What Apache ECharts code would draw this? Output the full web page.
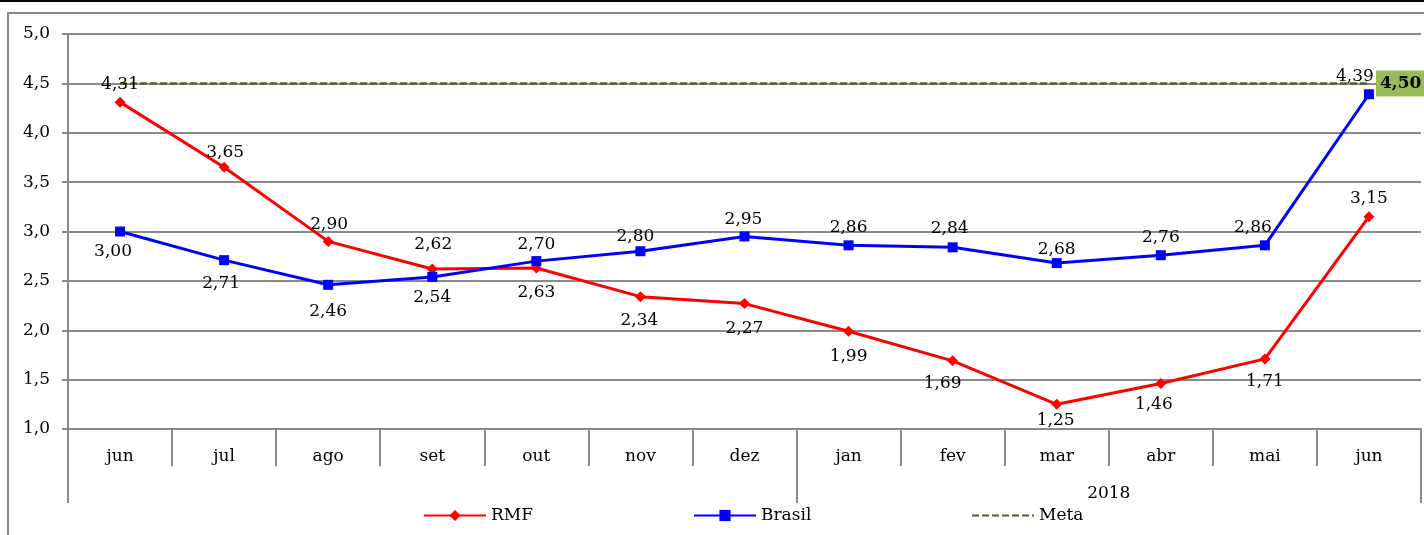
<!DOCTYPE html>
<html>
<head>
<meta charset="utf-8">
<script src="https://cdn.jsdelivr.net/npm/echarts@6/dist/echarts.min.js"></script>
<style>
  html, body { margin: 0; padding: 0; background: #fff; }
  #chart { width: 1424px; height: 535px; }
</style>
</head>
<body>
<div id="chart"></div>
<script>
// Monthly series, jun/2017 to jun/2018
const months = ['jun', 'jul', 'ago', 'set', 'out', 'nov', 'dez', 'jan', 'fev', 'mar', 'abr', 'mai', 'jun'];
const rmf    = [4.31, 3.65, 2.90, 2.62, 2.63, 2.34, 2.27, 1.99, 1.69, 1.25, 1.46, 1.71, 3.15];
const brasil = [3.00, 2.71, 2.46, 2.54, 2.70, 2.80, 2.95, 2.86, 2.84, 2.68, 2.76, 2.86, 4.39];
const meta   = [4.50, 4.50, 4.50, 4.50, 4.50, 4.50, 4.50, 4.50, 4.50, 4.50, 4.50, 4.50, 4.50];
// Year band under the month labels (boundaries between months, 0..13)
const yearBoundaries = ['', '', '', '', '', '', '', '', '', '', '2018', '', '', ''];
const yearTickIdx = [0, 7, 13];
const seriesNames = ['RMF', 'Brasil', 'Meta'];

// Label placement per point: side of the line and nudge [dx, dy]
const rmfLabelSide = ['top','top','top','top','bottom','bottom','bottom','bottom','bottom','bottom','bottom','bottom','top'];
const rmfLabelOff  = [[0,0],[1,3],[1,1],[1,-6],[0,4],[-1,3],[0,4],[0,4],[-10,2],[-1,-5],[-7,0],[0,2],[0,0]];
const brLabelSide  = ['bottom','bottom','bottom','bottom','top','top','top','top','top','top','top','top','top'];
const brLabelOff   = [[-7,0],[-3,3],[0,6],[0,0],[0,1],[-5,3],[-1,1],[0,0],[-3,-1],[0,4],[0,0],[-12,0],[-14,0]];

const FONT = 'DejaVu Serif';
const FS = 17;
const fmt = v => v.toFixed(2).replace('.', ',');

function pointsWithLabels(values, sides, offs) {
  return values.map((v, i) => ({
    value: v,
    label: {
      position: sides[i],
      distance: sides[i] === 'top' ? 4 : 7,
      offset: offs[i]
    }
  }));
}

// One legend block per series so each entry sits at its own column
const legendLefts = [418, 688, 966];
const legends = seriesNames.map((name, i) => ({
  left: legendLefts[i],
  top: 502,
  itemWidth: 62,
  itemHeight: 14,
  textStyle: { fontFamily: FONT, fontSize: FS, color: '#000' },
  data: [name === 'Meta' ? { name, itemStyle: { opacity: 0 } } : name]
}));

const chart = echarts.init(document.getElementById('chart'), null, { renderer: 'canvas' });

chart.setOption({
  animation: false,
  backgroundColor: '#fff',
  textStyle: { fontFamily: FONT },
  graphic: [
    { type: 'line', shape: { x1: 0, y1: 1, x2: 1424, y2: 1 }, style: { stroke: '#000', lineWidth: 2 }, silent: true },
    { type: 'rect', shape: { x: 8, y: 13, width: 1500, height: 600 }, style: { fill: 'none', stroke: '#8a8a8a', lineWidth: 2 }, silent: true }
  ],
  grid: { left: 68, right: 0, top: 34, bottom: 106, containLabel: false },
  legend: legends,
  xAxis: [
    {
      type: 'category',
      data: months,
      boundaryGap: true,
      axisLine: { lineStyle: { color: '#8a8a8a', width: 2 } },
      axisTick: { show: true, length: 37, lineStyle: { color: '#8a8a8a', width: 2 } },
      axisLabel: { fontFamily: FONT, fontSize: FS, color: '#000', margin: 19 }
    },
    {
      type: 'category',
      data: yearBoundaries,
      boundaryGap: false,
      position: 'bottom',
      axisLine: { show: false },
      axisTick: {
        show: true,
        length: 74,
        interval: (idx) => yearTickIdx.indexOf(idx) >= 0,
        lineStyle: { color: '#8a8a8a', width: 2 }
      },
      axisLabel: { fontFamily: FONT, fontSize: FS, color: '#000', margin: 56, interval: 0 },
      splitLine: { show: false }
    }
  ],
  yAxis: {
    type: 'value',
    min: 1,
    max: 5,
    interval: 0.5,
    axisLine: { show: true, lineStyle: { color: '#8a8a8a', width: 2 } },
    axisTick: { show: true, length: 6, lineStyle: { color: '#8a8a8a', width: 2 } },
    axisLabel: { fontFamily: FONT, fontSize: FS, color: '#000', margin: 18, formatter: v => v.toFixed(1).replace('.', ',') },
    splitLine: { show: true, lineStyle: { color: '#8a8a8a', width: 2 } }
  },
  series: [
    {
      name: 'Meta',
      type: 'line',
      xAxisIndex: 0,
      data: meta,
      symbol: 'none',
      lineStyle: { color: '#4F6228', width: 2.5, type: [7, 3] },
      itemStyle: { color: '#4F6228' },
      markPoint: {
        symbol: 'circle',
        symbolSize: 0,
        silent: true,
        data: [{ coord: [meta.length - 1, meta[meta.length - 1]], value: meta[meta.length - 1] }],
        label: {
          show: true,
          position: 'right',
          distance: 7,
          formatter: p => fmt(p.value),
          fontFamily: FONT,
          fontSize: FS,
          fontWeight: 'bold',
          color: '#000',
          backgroundColor: '#9BBB59',
          padding: [5, 4, 4, 4]
        }
      },
      z: 2
    },
    {
      name: 'RMF',
      type: 'line',
      xAxisIndex: 0,
      data: pointsWithLabels(rmf, rmfLabelSide, rmfLabelOff),
      symbol: 'diamond',
      symbolSize: 11,
      lineStyle: { color: '#FF0000', width: 3 },
      itemStyle: { color: '#FF0000' },
      label: { show: true, fontFamily: FONT, fontSize: FS, color: '#000', formatter: p => fmt(p.value) },
      z: 3
    },
    {
      name: 'Brasil',
      type: 'line',
      xAxisIndex: 0,
      data: pointsWithLabels(brasil, brLabelSide, brLabelOff),
      symbol: 'rect',
      symbolSize: 10,
      lineStyle: { color: '#0000FF', width: 3 },
      itemStyle: { color: '#0000FF' },
      label: { show: true, fontFamily: FONT, fontSize: FS, color: '#000', formatter: p => fmt(p.value) },
      z: 4
    }
  ]
});
</script>
</body>
</html>
